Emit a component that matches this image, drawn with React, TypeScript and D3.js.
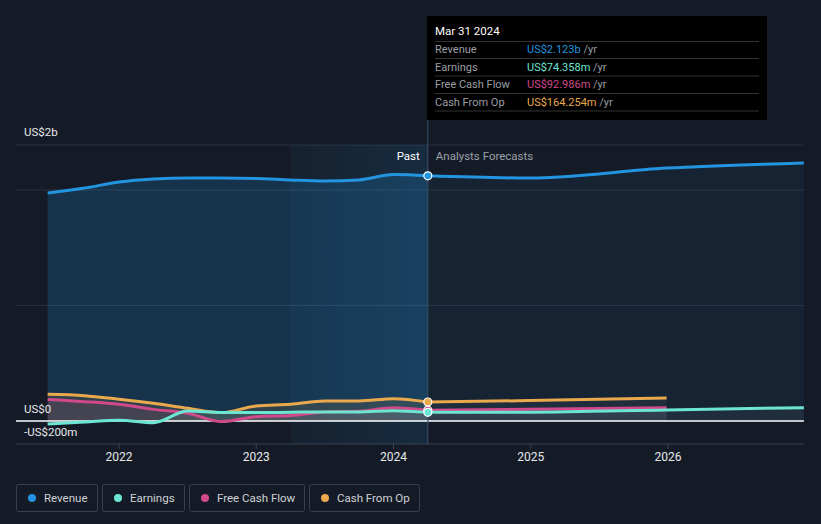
import React from 'react';
import * as d3 from 'd3';

// quarterly history (decimal years) and analyst forecasts, values in US$ billions
const pastDates = [2021.48, 2021.75, 2022, 2022.25, 2022.5, 2022.75, 2023, 2023.25, 2023.5, 2023.75, 2024, 2024.25];
const revenuePast = [1.974, 2.017, 2.069, 2.095, 2.104, 2.104, 2.1, 2.087, 2.078, 2.087, 2.134, 2.123];
const earningsPast = [-0.026, -0.01, 0.006, -0.015, 0.085, 0.072, 0.072, 0.075, 0.078, 0.078, 0.089, 0.074];
const fcfPast = [0.185, 0.167, 0.144, 0.1, 0.067, -0.006, 0.037, 0.046, 0.078, 0.084, 0.115, 0.093];
const cashOpPast = [0.231, 0.219, 0.188, 0.153, 0.11, 0.072, 0.13, 0.144, 0.173, 0.173, 0.193, 0.164];

const fcDates = [2024.25, 2024.99, 2025.99, 2026.99];
const revenueFc = [2.123, 2.104, 2.19, 2.234];
const earningsFc = [0.074, 0.075, 0.095, 0.115];
const fcfFc = [0.093, 0.1, 0.115];
const cashOpFc = [0.164, 0.176, 0.199];

const yearTicks = [2022, 2023, 2024, 2025, 2026];

const seriesNames = ['Revenue', 'Earnings', 'Free Cash Flow', 'Cash From Op'];
const seriesColors = ['#2394df', '#6ce5d3', '#d0498a', '#eaa94c'];
const tooltipValues = ['US$2.123b', 'US$74.358m', 'US$92.986m', 'US$164.254m'];

const W = 821;
const H = 524;
const bg = '#151b26';

const x = d3.scaleLinear().domain([2022, 2026]).range([119, 668]);
const y = d3.scaleLinear().domain([-0.2, 2.39]).range([444, 145]);

type Pt = [number, number];
const zip = (ds: number[], vs: number[]): Pt[] => vs.map((v, i) => [ds[i], v]);

const line = d3.line<Pt>().x(d => x(d[0])).y(d => y(d[1])).curve(d3.curveMonotoneX);
const area = d3.area<Pt>().x(d => x(d[0])).y0(y(0)).y1(d => y(d[1])).curve(d3.curveMonotoneX);

const App = () => {
  const past = [revenuePast, earningsPast, fcfPast, cashOpPast].map(s => zip(pastDates, s));
  const fc = [revenueFc, earningsFc, fcfFc, cashOpFc].map(s => zip(fcDates, s));
  const now = x(2024.25);
  const left = 16;
  const right = x(2026.99);

  const legendW = [81, 82, 115, 110];
  let lx = left;
  const legend = legendW.map((w, i) => {
    const g = { x: lx, w, i };
    lx += w + 5;
    return g;
  });

  return (
    <svg width={W} height={H} style={{ position: 'absolute', left: 0, top: 0, background: bg, fontFamily: 'Roboto, sans-serif' }}>
      <defs>
        <linearGradient id="hl" x1="0" x2="1" y1="0" y2="0">
          <stop offset="0" stopColor="#2394df" stopOpacity={0.05} />
          <stop offset="1" stopColor="#2394df" stopOpacity={0.14} />
        </linearGradient>
      </defs>
      <rect x={0} y={0} width={W} height={H} fill={bg} />

      {/* gridlines */}
      {[2.39, 2, 1].map(v => (
        <line key={v} x1={left} x2={right} y1={y(v)} y2={y(v)} stroke="#2b3340" strokeWidth={1} />
      ))}

      {/* revenue areas */}
      <path d={area(past[0]) || ''} fill="#2394df" opacity={0.2} />
      <path d={area(fc[0]) || ''} fill="#2394df" opacity={0.07} />
      <rect x={x(2023.25)} y={y(2.39)} width={now - x(2023.25)} height={y(-0.2) - y(2.39)} fill="url(#hl)" />

      {/* small series areas */}
      {[1, 2, 3].map(i => (
        <g key={i}>
          <path d={area(past[i]) || ''} fill={seriesColors[i]} opacity={0.12} />
          <path d={area(fc[i]) || ''} fill="#9aa3b0" opacity={0.08} />
        </g>
      ))}

      {/* zero line and bottom axis */}
      <line x1={left} x2={right} y1={y(0)} y2={y(0)} stroke="#ffffff" strokeWidth={1.5} />
      <line x1={left} x2={right} y1={y(-0.2)} y2={y(-0.2)} stroke="#3a4250" strokeWidth={1} />
      {yearTicks.map(t => (
        <g key={t}>
          <line x1={x(t)} x2={x(t)} y1={y(-0.2)} y2={y(-0.2) + 5} stroke="#3a4250" />
          <text x={x(t)} y={461} fill="#e6e8eb" fontSize={12} textAnchor="middle">{t}</text>
        </g>
      ))}

      {/* now line */}
      <line x1={now} x2={now} y1={16} y2={y(-0.2)} stroke="#3c5068" strokeWidth={1} />

      {/* lines */}
      {[3, 2, 1, 0].map(i => (
        <g key={i}>
          <path d={line(past[i]) || ''} fill="none" stroke={seriesColors[i]} strokeWidth={3} />
          <path d={line(fc[i]) || ''} fill="none" stroke={seriesColors[i]} strokeWidth={3} />
        </g>
      ))}
      {[3, 2, 1, 0].map(i => (
        <circle key={i} cx={now} cy={y(past[i][past[i].length - 1][1])} r={4} fill={seriesColors[i]} stroke="#ffffff" strokeWidth={1.2} />
      ))}

      {/* y labels */}
      <text x={24} y={136} fill="#e6e8eb" fontSize={11.5}>US$2b</text>
      <text x={24} y={413} fill="#e6e8eb" fontSize={11.5}>US$0</text>
      <text x={24} y={436} fill="#e6e8eb" fontSize={11.5}>-US$200m</text>

      <text x={now - 8} y={160} fill="#ffffff" fontSize={11.5} textAnchor="end">Past</text>
      <text x={now + 8} y={160} fill="#9aa0a8" fontSize={11.5}>Analysts Forecasts</text>

      {/* tooltip */}
      <rect x={427} y={16} width={340} height={104} fill="#000000" />
      <text x={435} y={35} fill="#ffffff" fontSize={11.5}>Mar 31 2024</text>
      {[41.5, 58.5, 76, 93.5, 111].map(v => (
        <line key={v} x1={435} x2={759} y1={v} y2={v} stroke="#333333" />
      ))}
      {seriesNames.map((n, i) => (
        <g key={n}>
          <text x={435} y={53 + i * 17.5} fill="#9a9ea5" fontSize={11}>{n}</text>
          <text x={527} y={53 + i * 17.5} fontSize={11}>
            <tspan fill={seriesColors[i]}>{tooltipValues[i]}</tspan>
            <tspan fill="#9a9ea5"> /yr</tspan>
          </text>
        </g>
      ))}

      {/* legend */}
      {legend.map(g => (
        <g key={g.i}>
          <rect x={g.x + 0.5} y={484.5} width={g.w} height={27} rx={2} fill="none" stroke="#3a404b" />
          <circle cx={g.x + 16} cy={498} r={4} fill={seriesColors[g.i]} />
          <text x={g.x + 28} y={502} fill="#cfd2d6" fontSize={11.5}>{seriesNames[g.i]}</text>
        </g>
      ))}
    </svg>
  );
};

export default App;
